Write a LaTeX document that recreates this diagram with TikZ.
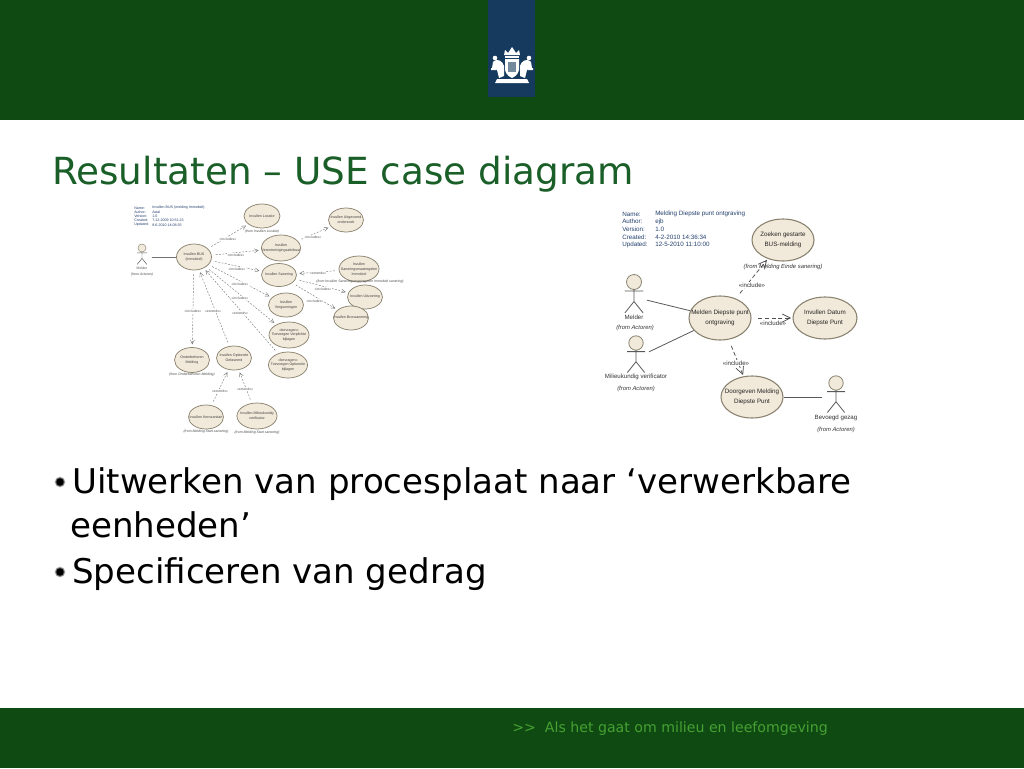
\documentclass[tikz,border=0pt]{standalone}
\usepackage{fontspec}
\setmainfont{DejaVu Sans}
\newfontfamily\umlfont{Liberation Sans}
\definecolor{hdrgreen}{HTML}{0F4A12}
\definecolor{bandblue}{HTML}{163A5E}
\definecolor{titlegreen}{HTML}{1A5E28}
\definecolor{footgreen}{HTML}{46A032}
\definecolor{ucfill}{HTML}{F1E9D9}
\definecolor{ucline}{HTML}{8A8270}
\definecolor{metablue}{HTML}{24406E}
\definecolor{dep}{HTML}{707070}
\tikzset{
  x=0.75pt,y=-0.75pt,
  smalluc/.style={ellipse,draw=ucline,line width=0.55pt,fill=ucfill,inner sep=0pt},
  biguc/.style={ellipse,draw=ucline,line width=0.8pt,fill=ucfill,inner sep=0pt},
  smallucT/.style={inner sep=0pt,align=center,font=\umlfont\fontsize{2.7}{3.6}\selectfont,text=black!75},
  bigucT/.style={inner sep=0pt,align=center,font=\umlfont\fontsize{4.7}{7.6}\selectfont,text=black!85},
  smalldep/.style={draw=dep,line width=0.3pt,dash pattern=on 1.4pt off 1.1pt,-{Straight Barb[length=3pt,width=3pt]},shorten >=2pt,shorten <=3pt},
  bigdep/.style={draw=black!70,line width=0.55pt,dash pattern=on 3pt off 2pt,-{Straight Barb[length=6pt,width=6pt]},shorten >=1pt,shorten <=5pt},
  smallline/.style={draw=dep,line width=0.4pt},
  bigline/.style={draw=black!65,line width=0.6pt},
  smalltxt/.style={inner sep=0pt,font=\umlfont\fontsize{2.6}{3}\selectfont,text=black!65},
  smallfrom/.style={inner sep=0pt,font=\umlfont\itshape\fontsize{2.6}{3}\selectfont,text=black!70},
  bigtxt/.style={inner sep=0pt,font=\umlfont\fontsize{4.6}{5}\selectfont,text=black!80},
  bigfrom/.style={inner sep=0pt,font=\umlfont\itshape\fontsize{4.4}{5}\selectfont,text=black!80},
  smallmeta/.style={inner sep=0pt,anchor=west,font=\umlfont\fontsize{2.7}{3}\selectfont,text=metablue},
  bigmeta/.style={inner sep=0pt,anchor=west,font=\umlfont\fontsize{4.7}{5}\selectfont,text=metablue},
  actorbox/.style={inner sep=0pt,rectangle},
  bodytxt/.style={anchor=base west,inner sep=0pt,font=\fontsize{25.55}{30}\selectfont},
}
\usetikzlibrary{shapes.geometric,arrows.meta}
\newcommand{\ucase}[7]{%
  \node[#1,minimum width=#5*0.75pt,minimum height=#6*0.75pt] (#2) at (#3,#4) {};
  \node[#1T] (#2T) at (#3,#4) {#7};}
\newcommand{\actorfig}[4]{%
  \draw[draw=ucline,fill=ucfill,line width=#4] (#1,#2) circle[radius=#3];
  \draw[draw=black!65,line width=#4]
    (#1-1.25*#3,#2+1.2*#3) -- (#1+1.25*#3,#2+1.2*#3)
    (#1,#2+#3) -- (#1,#2+2.6*#3) -- (#1-1.2*#3,#2+4.1*#3)
    (#1,#2+2.6*#3) -- (#1+1.2*#3,#2+4.1*#3);}
\newcommand{\bulletdot}[2]{%
  \fill[black!25] (#1,#2) circle[radius=5.4];
  \fill[black!60] (#1,#2) circle[radius=4.6];
  \fill[black] (#1,#2) circle[radius=3.7];}
\begin{document}
\begin{tikzpicture}
\useasboundingbox (0,0) rectangle (1024,768);
\fill[white] (0,0) rectangle (1024,768);
% header, footer
\fill[hdrgreen] (0,0) rectangle (1024,120);
\fill[hdrgreen] (0,708) rectangle (1024,768);
\fill[bandblue] (488,0) rectangle (535,97);
% crest
\begin{scope}[white]
  \fill (504,55) -- (505,50) -- (508,53) -- (512,47) -- (516,53) -- (519,50) -- (520,55) -- cycle;
  \fill (505,56) rectangle (519,58);
  \fill (505,59) -- (519,59) -- (519,70) .. controls (518,75) and (514,77) .. (512,78) .. controls (510,77) and (506,75) .. (505,70) -- cycle;
  \fill[bandblue!60!white] (508,62) rectangle (516,72);
  \fill (495,58) circle[radius=2.3] (529,58) circle[radius=2.3];
  \fill (493,62) .. controls (498,57) and (503,62) .. (504,66) -- (504,76) -- (499,78) -- (497,70) -- (492,68) -- cycle;
  \fill (531,62) .. controls (526,57) and (521,62) .. (520,66) -- (520,76) -- (525,78) -- (527,70) -- (532,68) -- cycle;
  \fill (497,79) -- (527,79) -- (529,83) -- (495,83) -- cycle;
  \fill (491,68) rectangle (496,70) (528,68) rectangle (533,70);
\end{scope}
% title
\node[anchor=base west,inner sep=0pt,text=titlegreen,font=\fontsize{28}{32}\selectfont] (title) at (52,184) {Resultaten – USE case diagram};
% bullets
\bulletdot{60}{482}
\bulletdot{60}{572}
\node[bodytxt] (b1) at (72,493) {Uitwerken van procesplaat naar ‘verwerkbare};
\node[bodytxt] (b1b) at (70,537) {eenheden’};
\node[bodytxt] (b2) at (72,583) {Specif{}iceren van gedrag};
% footer text
\node[anchor=base west,inner sep=0pt,text=footgreen,font=\fontsize{10.6}{12}\selectfont] (foot) at (512,732) {>{}>\ \ Als het gaat om milieu en leefomgeving};

% ---------- left diagram
\node[smallmeta] (lm1) at (134,208) {Name:};
\node[smallmeta] (lm2) at (134,212) {Author:};
\node[smallmeta] (lm3) at (134,216) {Version:};
\node[smallmeta] (lm4) at (134,220.5) {Created:};
\node[smallmeta] (lm5) at (134,225) {Updated:};
\node[smallmeta] (lv1) at (152,208) {Invullen BUS (melding Immobiel)};
\node[smallmeta] (lv2) at (152,212) {Axtal};
\node[smallmeta] (lv3) at (152,216) {1.0};
\node[smallmeta] (lv4) at (152,220.5) {7-12-2009 10:51:23};
\node[smallmeta] (lv5) at (152,225) {8-6-2010 14:08:35};

\ucase{smalluc}{main}{194}{257}{35}{26}{Invullen BUS\\(Immobiel)}
\ucase{smalluc}{loc}{262}{216}{36}{24}{Invullen Locatie}
\ucase{smalluc}{veront}{281}{248}{39}{26}{Invullen\\Verontreinigingsattribuut}
\ucase{smalluc}{uitgev}{346}{220}{35}{24}{Invullen Uitgevoerd\\onderzoek}
\ucase{smalluc}{saner}{279}{275}{35}{23}{Invullen Sanering}
\ucase{smalluc}{maatr}{359}{269}{40}{26}{Invullen\\Saneringsmaatregelen\\Immobiel}
\ucase{smalluc}{uitv}{365}{297}{35}{24}{Invullen Uitvoering}
\ucase{smalluc}{verg}{286}{305}{35}{24}{Invullen\\Vergunningen}
\ucase{smalluc}{bron}{351}{318}{35}{24}{Invullen Bronsanering}
\ucase{smalluc}{toevA}{289}{335}{40}{26}{«bevragen»\\Toevoegen Verplichte\\bijlagen}
\ucase{smalluc}{toevB}{288}{365}{39}{26}{«bevragen»\\Toevoegen Optionele\\bijlagen}
\ucase{smalluc}{onder}{192}{360}{35}{25}{Onderbehoren\\Melding}
\ucase{smalluc}{gefas}{234}{358}{35}{24}{Invullen Optionele\\Gefaseerd}
\ucase{smalluc}{kern}{206}{417}{35}{24}{Invullen Kernsanitair}
\ucase{smalluc}{milk}{257}{416}{40}{26}{Invullen Milieukundig\\verificator}

\actorfig{142}{248}{4}{0.35pt}
\node[actorbox,minimum width=14pt,minimum height=12pt] (lmelder) at (142,257) {};
\node[smalltxt] (lmeldert) at (142,268) {Melder};
\node[smallfrom] (lmelderf) at (142,275) {(from Actoren)};
\draw[smallline] (lmelder) -- (main);

\node[smallfrom] (fl1) at (262,232) {(from Invullen Locatie)};
\node[smallfrom] (fl2) at (360,282) {(from Invullen Saneringsmaatregelen Immobiel sanering)};
\node[smallfrom] (fl3) at (192,375) {(from Onderbehoren Melding)};
\node[smallfrom] (fl4) at (206,432) {(from Melding Start sanering)};
\node[smallfrom] (fl5) at (257,433) {(from Melding Start sanering)};

\draw[smalldep] (main) -- (loc);
\draw[smalldep] (main) -- (veront);
\draw[smalldep] (main) -- (saner);
\draw[smalldep] (main) -- (verg);
\draw[smalldep] (main) -- (toevA);
\draw[smalldep] (main) -- (onder);
\draw[smalldep] (gefas) -- (main);
\draw[smalldep] (toevB) -- (main);
\draw[smalldep] (kern) -- (gefas);
\draw[smalldep] (milk) -- (gefas);
\draw[smalldep] (veront) -- (uitgev);
\draw[smalldep] (maatr) -- (saner);
\draw[smalldep] (saner) -- (uitv);
\draw[smalldep] (saner) -- (bron);

\foreach \nm/\px/\py/\tx in {a/228/239/«includes»,b/236/255/«includes»,c/237/269/«includes»,d/240/284/«includes»,e/240/298/«includes»,f/240/313/«extends»,g/193/311/«includes»,h/213/311/«extends»,i/220/391/«extends»,j/245/389/«extends»,k/313/237/«includes»,l/318/273/«extends»,m/323/289/«includes»,n/315/301/«includes»}
  \node[smalltxt,fill=white,inner sep=0.3pt] (ll\nm) at (\px,\py) {\tx};

% ---------- right diagram
\node[bigmeta] (rm1) at (622,214) {Name:};
\node[bigmeta] (rm2) at (622,221.5) {Author:};
\node[bigmeta] (rm3) at (622,229) {Version:};
\node[bigmeta] (rm4) at (622,237) {Created:};
\node[bigmeta] (rm5) at (622,244.5) {Updated:};
\node[bigmeta] (rv1) at (655,214) {Melding Diepste punt ontgraving};
\node[bigmeta] (rv2) at (655,221.5) {ejb};
\node[bigmeta] (rv3) at (655,229) {1.0};
\node[bigmeta] (rv4) at (655,237) {4-2-2010 14:36:34};
\node[bigmeta] (rv5) at (655,244.5) {12-5-2010 11:10:00};

\ucase{biguc}{zoek}{783}{240}{62}{42}{Zoeken gestarte\\BUS-melding}
\ucase{biguc}{meld}{720}{318}{62}{44}{Melden Diepste punt\\ontgraving}
\ucase{biguc}{datum}{825}{318}{64}{42}{Invullen Datum\\Diepste Punt}
\ucase{biguc}{door}{752}{397}{62}{42}{Doorgeven Melding\\Diepste Punt}

\actorfig{634}{282}{7.5}{0.6pt}
\actorfig{636}{343}{7.2}{0.6pt}
\actorfig{836}{383}{7.2}{0.6pt}
\node[actorbox,minimum width=19pt,minimum height=24pt] (melder) at (634,297) {};
\node[actorbox,minimum width=19pt,minimum height=24pt] (milieu) at (636,358) {};
\node[actorbox,minimum width=20pt,minimum height=24pt] (bevoegd) at (836,397) {};
\node[bigtxt] (melderT) at (634,317) {Melder};
\node[bigfrom] (melderF) at (635,328) {(from Actoren)};
\node[bigtxt] (milieuT) at (636,377) {Milieukundig verificator};
\node[bigfrom] (milieuF) at (636,389) {(from Actoren)};
\node[bigtxt] (bevoegdT) at (836,418) {Bevoegd gezag};
\node[bigfrom] (bevoegdF) at (836,430) {(from Actoren)};

\draw[bigline] (melder) -- (meld);
\draw[bigline] (milieu) -- (meld);
\draw[bigline] (door) -- (bevoegd);
\draw[bigdep] (meld) -- (zoek);
\draw[bigdep] (meld) -- (datum);
\draw[bigdep] (meld) -- (door);
\node[bigfrom] (zoekF) at (783,267) {(from Melding Einde sanering)};
\node[bigtxt,fill=white,inner sep=0.5pt] (inc1) at (752,285) {«include»};
\node[bigtxt] (inc2) at (773,323) {«include»};
\node[bigtxt,fill=white,inner sep=0.5pt] (inc3) at (736,363) {«include»};
\end{tikzpicture}
\end{document}
